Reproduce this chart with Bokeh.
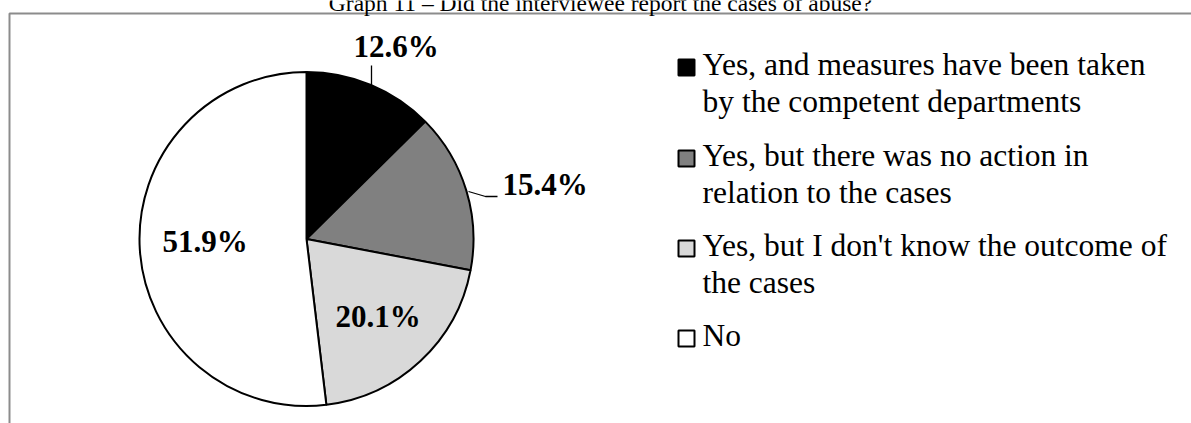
import math
from bokeh.plotting import figure
from bokeh.models import ColumnDataSource, Range1d
from bokeh.core.properties import value
from bokeh.embed import file_html
from bokeh.resources import INLINE

# ---- data ----
title = "Graph 11 – Did the interviewee report the cases of abuse?"
categories = [
    "Yes, and measures have been taken by the competent departments",
    "Yes, but there was no action in relation to the cases",
    "Yes, but I don't know the outcome of the cases",
    "No",
]
legend_lines = [
    ["Yes, and measures have been taken", "by the competent departments"],
    ["Yes, but there was no action in", "relation to the cases"],
    ["Yes, but I don't know the outcome of", "the cases"],
    ["No"],
]
shares = [12.6, 15.4, 20.1, 51.9]
colors = ["#000000", "#808080", "#d9d9d9", "#ffffff"]

# ---- layout (page pixels) ----
W, H = 1191, 423
def Y(py):
    return H - py

def B(py, size):
    # baseline position corrected for svg text baseline offset
    return Y(py - 0.38 * size)

cx, cy, r = 306, 238.5, 167
label_x = [395.5, 544.5, 377.5, 204.5]
label_base = [58, 196, 328, 253]
leg_sq_x = 686
leg_text_x = 702
leg_base = [76, 167, 257, 347]
leg_line_gap = 36.5
leg_font = 31.5

p = figure(width=W, height=H, x_range=Range1d(0, W), y_range=Range1d(0, H),
           output_backend="svg", toolbar_location=None, min_border=0,
           x_axis_location=None, y_axis_location=None)
p.grid.visible = False
p.outline_line_color = None
p.background_fill_color = "white"
p.border_fill_color = "white"

# border of chart area
p.line([9, 9, W], [Y(H), Y(13), Y(13)], line_color="#8c8c8c", line_width=2)

# title
p.text(x=[600], y=[B(11, 23.5)], text=[title], text_font=value("Liberation Serif"),
       text_font_size="23.5px", text_align="center", text_baseline="alphabetic",
       text_color="black")

# pie wedges (clockwise from 12 o'clock)
total = sum(shares)
starts, ends = [], []
cum = 0.0
for s in shares:
    a0 = math.pi / 2 - 2 * math.pi * cum / total
    cum += s
    a1 = math.pi / 2 - 2 * math.pi * cum / total
    starts.append(a1)
    ends.append(a0)
src = ColumnDataSource(dict(start=starts, end=ends, color=colors,
                            x=[cx] * len(shares), y=[Y(cy)] * len(shares)))
p.wedge(x="x", y="y", radius=r, start_angle="start", end_angle="end",
        fill_color="color", line_color="black", line_width=2, source=src)

# leader lines
p.line([371, 371], [Y(65), Y(86)], line_color="black", line_width=1.3)
p.line([468, 485, 497], [Y(191), Y(196), Y(196)], line_color="black", line_width=1.3)

# data labels
p.text(x=label_x, y=[B(b, 31) for b in label_base], text=[f"{s:.1f}%" for s in shares],
       text_font=value("Liberation Serif"), text_font_size="31px", text_font_style="bold",
       text_align="center", text_baseline="alphabetic", text_color="black")

# legend
for i, lines in enumerate(legend_lines):
    b = leg_base[i]
    p.rect(x=[leg_sq_x], y=[Y(b - 9)], width=16, height=16, fill_color=colors[i],
           line_color="black", line_width=2)
    p.text(x=[leg_text_x] * len(lines),
           y=[B(b + k * leg_line_gap, leg_font) for k in range(len(lines))],
           text=lines, text_font=value("Liberation Serif"), text_font_size=f"{leg_font}px",
           text_align="left", text_baseline="alphabetic", text_color="black")

open("out.html", "w").write(file_html(p, INLINE))
